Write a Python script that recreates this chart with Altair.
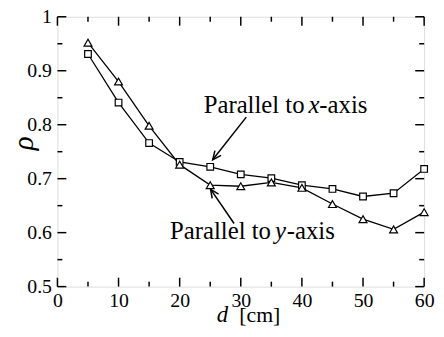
import math
import altair as alt
import pandas as pd

# ---- data ----
d_cm = [5, 10, 15, 20, 25, 30, 35, 40, 45, 50, 55, 60]
rho_par_x = [0.931, 0.841, 0.766, 0.731, 0.722, 0.708, 0.701, 0.688, 0.681, 0.667, 0.673, 0.718]
rho_par_y = [0.952, 0.880, 0.798, 0.726, 0.688, 0.686, 0.693, 0.683, 0.653, 0.625, 0.606, 0.638]

x_major = [0, 10, 20, 30, 40, 50, 60]
x_minor = [5, 15, 25, 35, 45, 55]
y_major = [0.5, 0.6, 0.7, 0.8, 0.9, 1.0]
y_minor = [0.55, 0.65, 0.75, 0.85, 0.95]

label_x_parts = ["Parallel to", "x", "-axis"]
label_y_parts = ["Parallel to", "y", "-axis"]
arrow_from_d = [30.9, 28.9]
arrow_from_rho = [0.814, 0.617]
arrow_to_d = [25.4, 25.05]
arrow_to_rho = [0.735, 0.6805]

# ---- layout ----
W, H = 371, 273
TOP = 7
FONT = "Liberation Serif"
xs = alt.Scale(domain=[0, 60], nice=False, zero=False)
ys = alt.Scale(domain=[0.5, 1.0], nice=False, zero=False)

df_x = pd.DataFrame({"d": d_cm, "rho": rho_par_x})
df_y = pd.DataFrame({"d": d_cm, "rho": rho_par_y})

x_axis = alt.Axis(values=x_major, ticks=False, tickSize=0, domain=False, grid=False,
                  labelFont=FONT, labelFontSize=20, labelColor="black", labelPadding=4,
                  labelFlush=False, labelOverlap=False, title=None)
y_axis = alt.Axis(values=y_major, ticks=False, tickSize=0, domain=False, grid=False,
                  labelFont=FONT, labelFontSize=20, labelColor="black", labelPadding=6,
                  labelFlush=False, labelOverlap=False, format="~g", title=None)

def X(field):
    return alt.X(field, scale=xs, axis=x_axis)

def Y(field):
    return alt.Y(field, scale=ys, axis=y_axis)

line_x = alt.Chart(df_x).mark_line(color="black", strokeWidth=1.3).encode(x=X("d:Q"), y=Y("rho:Q"))
line_y = alt.Chart(df_y).mark_line(color="black", strokeWidth=1.3).encode(x=X("d:Q"), y=Y("rho:Q"))
pts_x = alt.Chart(df_x).mark_point(shape="square", filled=True, fill="white", stroke="black",
                                   strokeWidth=1.2, size=45, opacity=1).encode(x=X("d:Q"), y=Y("rho:Q"))
pts_y = alt.Chart(df_y).mark_point(shape="triangle-up", filled=True, fill="white", stroke="black",
                                   strokeWidth=1.2, size=64, opacity=1).encode(x=X("d:Q"), y=Y("rho:Q"))

# ---- inward ticks on all four sides ----
def xticks(vals, length):
    base = alt.Chart(pd.DataFrame({"d": vals})).mark_rule(color="black", strokeWidth=1.5)
    return [base.encode(x=X("d:Q"), y=alt.value(H), y2=alt.value(H - length)),
            base.encode(x=X("d:Q"), y=alt.value(0), y2=alt.value(length))]

def yticks(vals, length):
    base = alt.Chart(pd.DataFrame({"rho": vals})).mark_rule(color="black", strokeWidth=1.5)
    return [base.encode(y=Y("rho:Q"), x=alt.value(0), x2=alt.value(length)),
            base.encode(y=Y("rho:Q"), x=alt.value(W), x2=alt.value(W - length))]

ticks = xticks(x_major, 9) + xticks(x_minor, 5) + yticks(y_major, 9) + yticks(y_minor, 5)

# ---- arrows ----
arr = pd.DataFrame({"d0": arrow_from_d, "r0": arrow_from_rho,
                    "d1": arrow_to_d, "r1": arrow_to_rho})
px_d = W / 60.0
px_r = H / 0.5
# rotation clockwise from "up" of the direction from start to tip, in screen space
arr["ang"] = [
    (math.degrees(math.atan2((d1 - d0) * px_d, (r1 - r0) * px_r)) + 360) % 360
    for d0, d1, r0, r1 in zip(arr["d0"], arr["d1"], arr["r0"], arr["r1"])
]
arrow_lines = alt.Chart(arr).mark_rule(color="black", strokeWidth=1.5).encode(
    x=X("d0:Q"), x2="d1:Q", y=Y("r0:Q"), y2="r1:Q")
arrow_heads = alt.Chart(arr).mark_point(shape="M -0.45 1 L 0 0 L 0.45 1", filled=False,
                                        stroke="black", strokeWidth=1.5, size=300, opacity=1).encode(
    x=X("d1:Q"), y=Y("r1:Q"), angle=alt.Angle("ang:Q", scale=None))

# ---- texts (positions given in page pixels, converted to plot pixels) ----
OX, OY = 8 + 50, 8 + TOP
one = pd.DataFrame({"a": [0]})
def txt(s, x, y, size, italic=False, align="left"):
    return alt.Chart(one).mark_text(text=s, font=FONT, fontSize=size, color="black",
                                    fontStyle="italic" if italic else "normal",
                                    align=align, baseline="alphabetic").encode(
        x=alt.value(x - OX), y=alt.value(y - OY))

texts = [
    txt(label_x_parts[0], 206, 112, 25),
    txt(label_x_parts[1], 312, 112, 25, italic=True),
    txt(label_x_parts[2], 323, 112, 25),
    txt(label_y_parts[0], 172, 240, 25),
    txt(label_y_parts[1], 278, 240, 25, italic=True),
    txt(label_y_parts[2], 290, 240, 25),
    txt("d", 225, 324, 23, italic=True, align="center"),
    txt("[cm]", 242, 324, 22),
    alt.Chart(one).mark_text(text="ρ", font=FONT, fontSize=29, fontStyle="italic", color="black",
                             align="center", baseline="middle", angle=270).encode(
        x=alt.value(24 - OX), y=alt.value(143 - OY)),
]

chart = alt.layer(line_x, line_y, pts_x, pts_y, *ticks, arrow_lines, arrow_heads, *texts).properties(
    width=W, height=H,
    autosize=alt.AutoSizeParams(type="none"),
    padding={"left": 50, "top": TOP, "right": 12, "bottom": 41},
).configure_view(stroke="black", strokeWidth=2).configure_axis(
    labelFont=FONT, labelFontSize=20, labelColor="black"
).configure(background="white")

chart.save("out.html", embed_options={"renderer": "svg", "actions": False})
